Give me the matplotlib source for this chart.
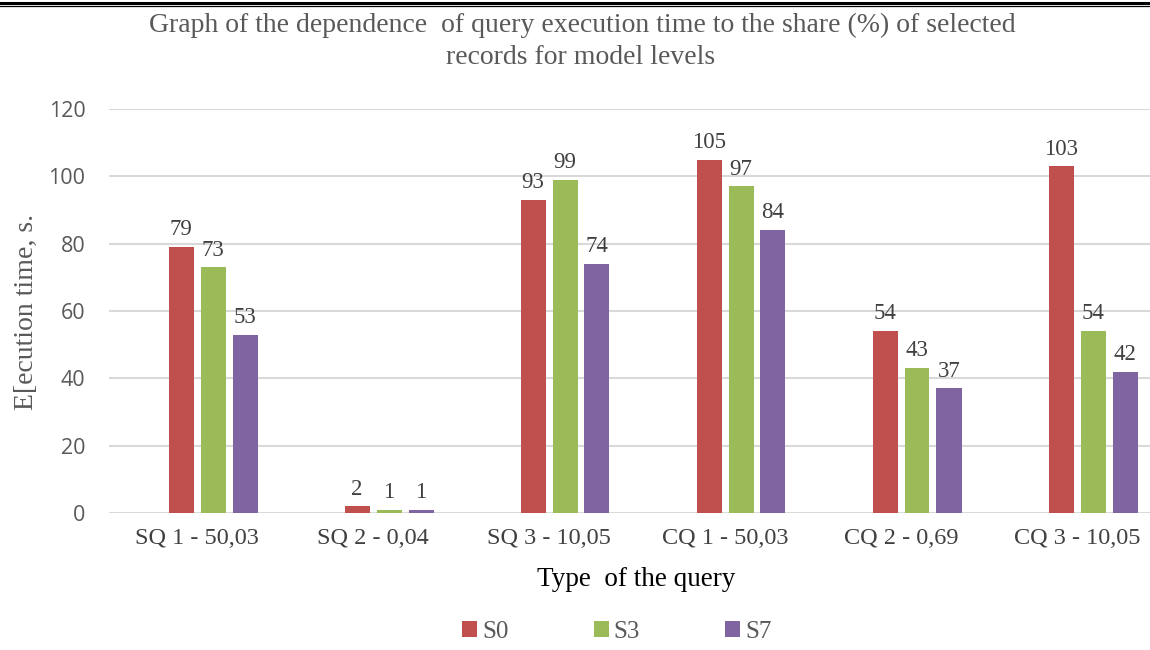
import numpy as np
from matplotlib import pyplot as plt
from matplotlib.lines import Line2D

categories = ["SQ 1 - 50,03", "SQ 2 - 0,04", "SQ 3 - 10,05",
              "CQ 1 - 50,03", "CQ 2 - 0,69", "CQ 3 - 10,05"]
series_names = ["S0", "S3", "S7"]
s0 = [79, 2, 93, 105, 54, 103]
s3 = [73, 1, 99, 97, 43, 54]
s7 = [53, 1, 74, 84, 37, 42]
yticks = [0, 20, 40, 60, 80, 100, 120]

colors = ["#C0504D", "#9BBB59", "#8064A2"]
serif = "Liberation Serif"
sans = "Open Sans"

W, H = 1150, 650
fig = plt.figure(figsize=(W / 100, H / 100), dpi=100)
# axes runs a bit past the right edge, like the cropped original
ax = fig.add_axes([109 / W, (H - 513) / H, 1056 / W, 404 / H])

x = np.arange(len(categories))
step = 32 / 176
width = 25 / 176
# four slots per group, the first one is empty
for i, (vals, name) in enumerate(zip([s0, s3, s7], series_names)):
    pos = x + (i - 0.5) * step
    ax.bar(pos, vals, width, color=colors[i], label=name, zorder=3)
    for p, v in zip(pos, vals):
        ax.text(p, v + 2.0, str(v), ha="center", va="bottom",
                fontsize=16.5, family=serif, color="#404040")

ax.set_xlim(-0.5, len(categories) - 0.5)
ax.set_ylim(0, 120)
ax.set_yticks(yticks)
ax.set_yticklabels([str(t) for t in yticks], fontsize=15.5, family=sans, color="#595959")
ax.set_xticks(x)
ax.set_xticklabels(categories, fontsize=17.5, family=serif, color="#404040")
ax.tick_params(axis="both", length=0)
ax.tick_params(axis="y", pad=17)
ax.tick_params(axis="x", pad=11)
ax.yaxis.grid(True, color="#D9D9D9", linewidth=1.5, zorder=0)
for s in ax.spines.values():
    s.set_visible(False)

fig.text(582 / W, 1 - 25 / H, "Graph of the dependence  of query execution time to the share (%) of selected",
         ha="center", va="center", fontsize=20, family=serif, color="#595959")
fig.text(581 / W, 1 - 58 / H, "records for model levels",
         ha="center", va="center", fontsize=20, family=serif, color="#595959")
fig.text(26 / W, 1 - 312 / H, "E[ecution time, s.", rotation=90,
         ha="center", va="center", fontsize=20, family=serif, color="#595959")
fig.text(636 / W, 1 - 580 / H, "Type  of the query",
         ha="center", va="center", fontsize=19.5, family=serif, color="black")

leg = fig.legend(loc="center", bbox_to_anchor=(617 / W, 1 - 632 / H), ncol=3,
                 frameon=False, handlelength=0.6, handleheight=0.6, handletextpad=0.2,
                 columnspacing=3.4, prop={"family": serif, "size": 18})
for t in leg.get_texts():
    t.set_color("#595959")

# double rule at the top of the picture
fig.add_artist(Line2D([0, 1], [1 - 3.3 / H, 1 - 3.3 / H], color="black", linewidth=2.2))
fig.add_artist(Line2D([0, 1], [1 - 5.8 / H, 1 - 5.8 / H], color="black", linewidth=0.9))

fig.savefig("out.png", dpi=100)
